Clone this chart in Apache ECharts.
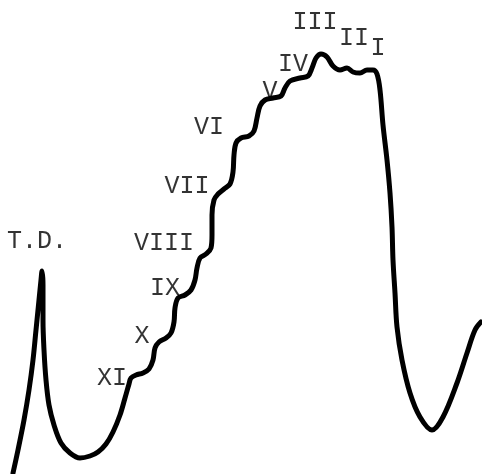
<!DOCTYPE html>
<html>
<head>
<meta charset="utf-8">
<script src="https://cdn.jsdelivr.net/npm/echarts@6/dist/echarts.min.js"></script>
<style>html,body{margin:0;padding:0;background:#fff}#c{width:482px;height:474px}</style>
</head>
<body>
<div id="c"></div>
<script>
// Trace (x: position along run, y: depth from top, picture units)
const traceX = [13,18,24,29,33,36,39,41,42,43,43,44,46,49,54,61,70,80,90,98,106,113,120,125,129,131,136,143,149,153,155,159,166,171,174,175,178,185,191,195,197,200,206,211,212,212,214,218,224,230,233,234,236,241,249,254,257,260,265,273,281,285,290,300,308,312,316,321,327,333,340,347,353,360,367,373,377,380,383,387,390,392,393,395,397,402,410,420,432,443,457,467,475,481];
const traceY = [473,450,420,390,360,330,300,280,271,285,320,350,380,405,425,443,453,458,456,452,444,432,415,398,384,378,375,373,369,360,348,342,338,333,322,308,298,295,290,280,268,258,254,248,235,215,200,194,189,184,172,155,143,138,136,131,118,106,100,98,96,88,81,78,76,68,58,54,57,66,70,68,72,73,70,70,74,90,125,160,193,227,260,293,327,360,393,417,430,417,383,353,330,322];
// Band labels
const bandNames = ["T.D.","XI","X","IX","VIII","VII","VI","V","IV","III","II","I"];
const bandX = [37,112,142,165,164,187,209,270,293,315,354,378];
const bandY = [241,378,336,288,243,186,127,91,64,22,38,48];

const chart = echarts.init(document.getElementById('c'));
chart.setOption({
  animation: false,
  backgroundColor: '#fff',
  grid: {left: 0, right: 0, top: 0, bottom: 0},
  xAxis: {type: 'value', min: 0, max: 482, show: false},
  yAxis: {type: 'value', min: 0, max: 474, inverse: true, show: false},
  series: [
    {
      type: 'line',
      data: traceX.map((x, i) => [x, traceY[i]]),
      showSymbol: false,
      smooth: 0.35,
      lineStyle: {color: '#000', width: 5, cap: 'round', join: 'round'}
    },
    {
      type: 'scatter',
      data: bandX.map((x, i) => ({value: [x, bandY[i]], name: bandNames[i]})),
      symbolSize: 0,
      label: {
        show: true,
        position: 'inside',
        formatter: p => p.name,
        fontFamily: 'Liberation Mono',
        fontSize: 25,
        color: '#000'
      },
      emphasis: {disabled: true}
    }
  ]
});
</script>
</body>
</html>
